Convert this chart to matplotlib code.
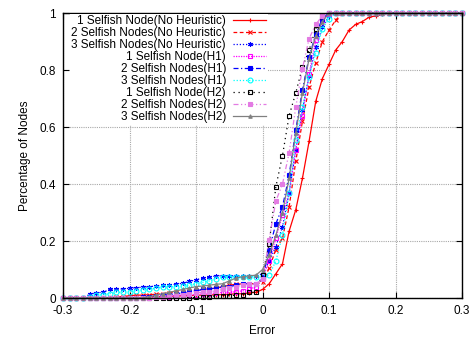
import numpy as np
import matplotlib
matplotlib.use("Agg")
import matplotlib.pyplot as plt

plt.rcParams['font.family'] = ['Liberation Sans', 'DejaVu Sans']

# x from -0.30 to 0.30, step 0.01
error = np.round(np.arange(-30, 31) / 100.0, 2)

one_nh = [0, 0, 0, 0, 0, 0, 0, 0, 0, 0,
          0, 0, 0.003, 0.003, 0.005, 0.005, 0.007, 0.007, 0.008, 0.008,
          0.01, 0.01, 0.01, 0.012, 0.012, 0.013, 0.015, 0.015, 0.018, 0.02,
          0.03,
          0.05, 0.085, 0.12, 0.235, 0.31, 0.42, 0.55, 0.69, 0.77, 0.82,
          0.87, 0.90, 0.94, 0.96, 0.97, 0.985, 0.99, 0.995, 1, 1,
          1, 1, 1, 1, 1, 1, 1, 1, 1, 1]
two_nh = [0, 0, 0, 0, 0, 0, 0, 0, 0.003, 0.005,
          0.008, 0.01, 0.01, 0.012, 0.013, 0.015, 0.018, 0.02, 0.022, 0.025,
          0.028, 0.03, 0.032, 0.035, 0.04, 0.045, 0.048, 0.05, 0.05, 0.05,
          0.055,
          0.105, 0.17, 0.21, 0.32, 0.48, 0.62, 0.74, 0.825, 0.90, 0.94,
          0.975, 1, 1, 1, 1, 1, 1, 1, 1, 1,
          1, 1, 1, 1, 1, 1, 1, 1, 1, 1]
three_nh = [0, 0, 0, 0, 0.013, 0.018, 0.02, 0.03, 0.031, 0.032,
            0.034, 0.036, 0.038, 0.04, 0.042, 0.044, 0.046, 0.048, 0.052, 0.058,
            0.064, 0.07, 0.072, 0.078, 0.078, 0.078, 0.078, 0.078, 0.078, 0.078,
            0.085,
            0.13, 0.18, 0.25, 0.37, 0.52, 0.66, 0.78, 0.88, 0.95, 0.99,
            1, 1, 1, 1, 1, 1, 1, 1, 1, 1,
            1, 1, 1, 1, 1, 1, 1, 1, 1, 1]
one_h1 = [0, 0, 0, 0, 0, 0, 0, 0, 0, 0,
          0, 0, 0, 0, 0.003, 0.005, 0.005, 0.008, 0.01, 0.01,
          0.012, 0.015, 0.015, 0.018, 0.02, 0.02, 0.022, 0.025, 0.03, 0.04,
          0.07,
          0.13, 0.21, 0.29, 0.37, 0.52, 0.64, 0.785, 0.905, 0.975, 0.995,
          1, 1, 1, 1, 1, 1, 1, 1, 1, 1,
          1, 1, 1, 1, 1, 1, 1, 1, 1, 1]
two_h1 = [0, 0, 0, 0, 0, 0, 0, 0, 0, 0,
          0, 0, 0.003, 0.005, 0.008, 0.01, 0.012, 0.015, 0.018, 0.02,
          0.025, 0.03, 0.032, 0.035, 0.038, 0.04, 0.045, 0.05, 0.05, 0.05,
          0.07,
          0.17, 0.26, 0.32, 0.43, 0.59, 0.73, 0.845, 0.925, 0.98, 1,
          1, 1, 1, 1, 1, 1, 1, 1, 1, 1,
          1, 1, 1, 1, 1, 1, 1, 1, 1, 1]
three_h1 = [0, 0, 0, 0, 0.005, 0.01, 0.012, 0.015, 0.02, 0.02,
            0.022, 0.025, 0.028, 0.03, 0.035, 0.038, 0.04, 0.04, 0.042, 0.045,
            0.05, 0.055, 0.06, 0.068, 0.072, 0.075, 0.075, 0.075, 0.075, 0.075,
            0.078,
            0.08, 0.13, 0.22, 0.37, 0.555, 0.67, 0.775, 0.86, 0.945, 0.98,
            1, 1, 1, 1, 1, 1, 1, 1, 1, 1,
            1, 1, 1, 1, 1, 1, 1, 1, 1, 1]
one_h2 = [0, 0, 0, 0, 0, 0, 0, 0, 0, 0,
          0, 0, 0, 0, 0, 0, 0, 0, 0, 0,
          0.002, 0.003, 0.005, 0.008, 0.008, 0.008, 0.01, 0.01, 0.02, 0.02,
          0.08,
          0.19, 0.39, 0.5, 0.64, 0.72, 0.81, 0.87, 0.945, 0.99, 1,
          1, 1, 1, 1, 1, 1, 1, 1, 1, 1,
          1, 1, 1, 1, 1, 1, 1, 1, 1, 1]
two_h2 = [0, 0, 0, 0, 0, 0, 0, 0, 0, 0,
          0, 0, 0, 0, 0.003, 0.005, 0.008, 0.01, 0.012, 0.015,
          0.018, 0.02, 0.022, 0.025, 0.03, 0.035, 0.04, 0.045, 0.05, 0.05,
          0.065,
          0.205, 0.34, 0.40, 0.51, 0.67, 0.805, 0.91, 0.96, 0.99, 1,
          1, 1, 1, 1, 1, 1, 1, 1, 1, 1,
          1, 1, 1, 1, 1, 1, 1, 1, 1, 1]
three_h2 = [0, 0, 0, 0, 0, 0, 0, 0, 0, 0,
            0, 0, 0, 0.005, 0.01, 0.015, 0.02, 0.025, 0.03, 0.035,
            0.04, 0.042, 0.045, 0.048, 0.05, 0.06, 0.07, 0.075, 0.078, 0.08,
            0.1,
            0.15, 0.22, 0.3, 0.42, 0.58, 0.72, 0.84, 0.92, 0.97, 1,
            1, 1, 1, 1, 1, 1, 1, 1, 1, 1,
            1, 1, 1, 1, 1, 1, 1, 1, 1, 1]

labels = ["1 Selfish Node(No Heuristic)", "2 Selfish Nodes(No Heuristic)",
          "3 Selfish Nodes(No Heuristic)", "1 Selfish Node(H1)",
          "2 Selfish Nodes(H1)", "3 Selfish Nodes(H1)",
          "1 Selfish Node(H2)", "2 Selfish Nodes(H2)", "3 Selfish Nodes(H2)"]
series = [one_nh, two_nh, three_nh, one_h1, two_h1, three_h1, one_h2, two_h2, three_h2]

# color, linestyle, marker, marker face
styles = [
    ("#ff0000", "-", "+", "none"),
    ("#ff0000", (0, (3, 2)), "x", "none"),
    ("#0000ff", (0, (1, 1.5)), (6, 2, 0), "#0000ff"),
    ("#ff00ff", (0, (1, 1)), "s", "none"),
    ("#0000ff", (0, (4, 2, 1, 2)), "s", "#0000ff"),
    ("#00ffff", (0, (1, 1.5)), "o", "none"),
    ("#000000", (0, (1, 3)), "s", "none"),
    ("#e37be3", (0, (4, 2, 1, 2, 1, 2)), "s", "#e37be3"),
    ("#808080", "-", "^", "#808080"),
]

fig = plt.figure(figsize=(4.71, 3.38), dpi=100)
ax = fig.add_axes([0.1338, 0.1183, 0.8472, 0.8432])

for vals, lab, (c, ls, mk, mf) in zip(series, labels, styles):
    ms = 2.5 if mk == "^" else 3.5
    ax.plot(error, vals, color=c, linestyle=ls, linewidth=0.9, marker=mk,
            markersize=ms, markerfacecolor=mf, markeredgecolor=c,
            markeredgewidth=0.8, label=lab, clip_on=False)

ax.set_xlim(-0.3, 0.3)
ax.set_ylim(0, 1)
ax.set_xticks([-0.3, -0.2, -0.1, 0, 0.1, 0.2, 0.3])
ax.set_xticklabels(["-0.3", "-0.2", "-0.1", "0", "0.1", "0.2", "0.3"])
ax.set_yticks([0, 0.2, 0.4, 0.6, 0.8, 1])
ax.set_yticklabels(["0", "0.2", "0.4", "0.6", "0.8", "1"])
ax.tick_params(direction="in", top=True, right=True, labelsize=8.5, length=4, pad=5)
ax.grid(True, color="#a8a8a8", linestyle=(0, (1, 1)), linewidth=0.8)
ax.set_axisbelow(True)
for sp in ax.spines.values():
    sp.set_linewidth(1.0)

ax.set_xlabel("Error", fontsize=8.5, labelpad=6)
ax.set_ylabel("Percentage of Nodes", fontsize=8.5, labelpad=6)

leg = ax.legend(loc="upper right", bbox_to_anchor=(0.515, 1.0), fontsize=8.5,
                markerfirst=False, alignment="right", frameon=True, fancybox=False,
                handlelength=2.8, handletextpad=0.6, labelspacing=0.0,
                borderpad=0.15, borderaxespad=0.05)
leg.get_frame().set_facecolor("white")
leg.get_frame().set_edgecolor("none")
leg.get_frame().set_alpha(1.0)

fig.savefig("out.png", dpi=100)
